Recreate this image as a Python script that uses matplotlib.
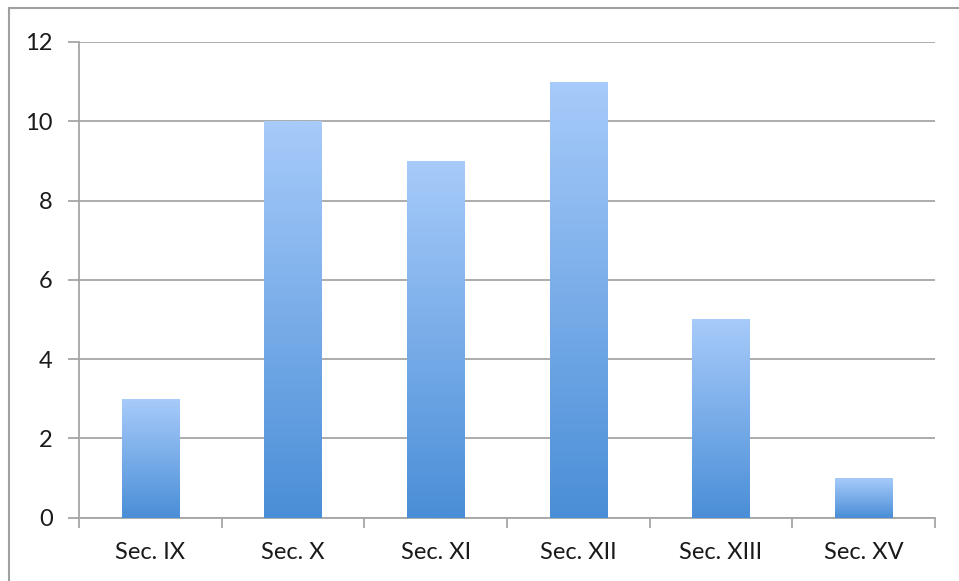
import numpy as np
import matplotlib
matplotlib.use("Agg")
import matplotlib.pyplot as plt
from matplotlib.colors import LinearSegmentedColormap
from matplotlib.lines import Line2D

categories = ["Sec. IX", "Sec. X", "Sec. XI", "Sec. XII", "Sec. XIII", "Sec. XV"]
values = [3, 10, 9, 11, 5, 1]
yticks = [0, 2, 4, 6, 8, 10, 12]

plt.rcParams['font.family'] = ['Lato', 'DejaVu Sans']

W, H = 959, 581
fig = plt.figure(figsize=(W / 100, H / 100), dpi=100)
fig.patch.set_facecolor("white")

ax = fig.add_axes([79 / W, 1 - 517.5 / H, (935 - 79) / W, (517.5 - 42) / H])
ax.set_xlim(0, len(categories))
ax.set_ylim(0, 12)

grid_color = "#a6a6a6"
ax.set_yticks(yticks)
ax.yaxis.grid(True, color=grid_color, linewidth=1.3)
ax.set_axisbelow(True)

for s in ["top", "right"]:
    ax.spines[s].set_visible(False)
for s in ["left", "bottom"]:
    ax.spines[s].set_color(grid_color)
    ax.spines[s].set_linewidth(1.3)

# Category boundaries carry the x tick marks; labels sit at bar centres
ax.set_xticks(np.arange(len(categories) + 1))
ax.set_xticklabels([])
ax.set_xticks(np.arange(len(categories)) + 0.5, minor=True)
ax.set_xticklabels(categories, minor=True, fontsize=17, color="#1a1a1a")
ax.tick_params(axis="x", which="major", length=7, width=1.3, color=grid_color, direction="out")
ax.tick_params(axis="x", which="minor", length=0, pad=17.5)
ax.tick_params(axis="y", length=8, width=1.3, color=grid_color, labelsize=17,
               labelcolor="#1a1a1a", pad=11)

# Vertical gradient fill for each bar: light at the top, deeper blue at the base
cmap = LinearSegmentedColormap.from_list("barfill", ["#4a8ed7", "#a7cbfa"])
grad = np.linspace(0, 1, 256).reshape(-1, 1)
bar_w = 0.4
bars = ax.bar(np.arange(len(categories)) + 0.5, values, width=bar_w, color="none",
              edgecolor="none", zorder=3)
for b, v in zip(bars, values):
    x0 = b.get_x()
    ax.imshow(grad, cmap=cmap, aspect="auto", origin="lower",
              extent=(x0, x0 + bar_w, 0, v), zorder=3, interpolation="bilinear")
ax.set_xlim(0, len(categories))
ax.set_ylim(0, 12)

# Chart frame around the plot area (left and top edges visible)
fig.add_artist(Line2D([8.5 / W, 8.5 / W], [0, 1 - 7.5 / H], transform=fig.transFigure,
                      color="#a0a0a0", linewidth=1.5))
fig.add_artist(Line2D([8.5 / W, 1], [1 - 7.5 / H, 1 - 7.5 / H], transform=fig.transFigure,
                      color="#a0a0a0", linewidth=1.5))

fig.savefig("out.png", dpi=100, facecolor="white")
